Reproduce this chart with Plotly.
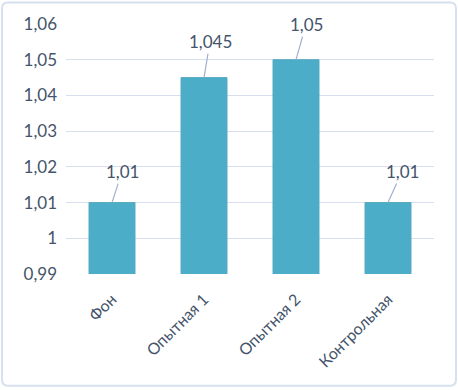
import plotly.graph_objects as go

categories = ["Фон", "Опытная 1", "Опытная 2", "Контрольная"]
values = [1.01, 1.045, 1.05, 1.01]
value_labels = ["1,01", "1,045", "1,05", "1,01"]
tick_values = [0.99, 1.0, 1.01, 1.02, 1.03, 1.04, 1.05, 1.06]
tick_labels = ["0,99", "1", "1,01", "1,02", "1,03", "1,04", "1,05", "1,06"]

# callout offsets (style, pixels)
label_dx = [10, 6, 10, 14]
label_dy = [-31, -36, -35, -31]

FONT = "Lato, Calibri, Carlito, sans-serif"
TXT = "#44546A"

fig = go.Figure()
fig.add_trace(go.Bar(
    x=categories, y=values,
    marker=dict(color="#4BADC7", line=dict(color="#58A9C2", width=1)),
    width=0.5,
    hoverinfo="skip",
))

for c, v, t, dx, dy in zip(categories, values, value_labels, label_dx, label_dy):
    fig.add_annotation(
        x=c, y=v, text=t, showarrow=True, arrowhead=0, arrowwidth=1.2,
        arrowcolor="#9FB0CF", ax=dx, ay=dy, standoff=0, startstandoff=0,
        font=dict(family=FONT, size=17, color=TXT),
    )

# rounded chart-area border (paper coordinates relative to the plot area)
PW, PH = 368.0, 250.5
def px(x):
    return (x - 66) / PW
def py(y):
    return (274 - y) / PH
L, R, T, B, r = 2, 456, 2, 386, 6
path = (f"M {px(L + r)},{py(T)} L {px(R - r)},{py(T)} "
        f"Q {px(R)},{py(T)} {px(R)},{py(T + r)} L {px(R)},{py(B - r)} "
        f"Q {px(R)},{py(B)} {px(R - r)},{py(B)} L {px(L + r)},{py(B)} "
        f"Q {px(L)},{py(B)} {px(L)},{py(B - r)} L {px(L)},{py(T + r)} "
        f"Q {px(L)},{py(T)} {px(L + r)},{py(T)} Z")
fig.add_shape(type="path", xref="paper", yref="paper", path=path,
              line=dict(color="#D6E0EE", width=2), fillcolor="rgba(0,0,0,0)",
              layer="below")

fig.update_layout(
    width=458, height=390,
    margin=dict(l=66, r=24, t=23.5, b=116, autoexpand=False),
    paper_bgcolor="white", plot_bgcolor="white",
    showlegend=False,
    font=dict(family=FONT, color=TXT, size=16),
    xaxis=dict(showgrid=False, showline=False, ticks="", tickangle=-45,
               automargin=False, ticklabelstandoff=12,
               tickfont=dict(family=FONT, size=16, color=TXT)),
    yaxis=dict(range=[0.99, 1.06], tickvals=tick_values, ticktext=tick_labels,
               automargin=False,
               showgrid=True, gridcolor="#D9DFEE", gridwidth=1.3,
               zeroline=False, showline=False, ticks="", ticklabelstandoff=8,
               tickfont=dict(family=FONT, size=17, color=TXT)),
)

fig.write_html("out.html", config={"displayModeBar": False},
               post_script="document.body.style.margin='0';document.body.style.overflow='hidden';")
